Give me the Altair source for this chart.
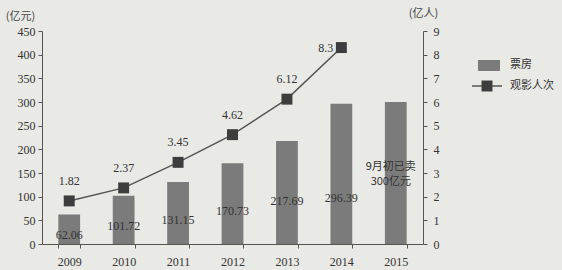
import altair as alt
import pandas as pd

years = ["2009", "2010", "2011", "2012", "2013", "2014", "2015"]
box_office = [62.06, 101.72, 131.15, 170.73, 217.69, 296.39, 300]
box_labels = ["62.06", "101.72", "131.15", "170.73", "217.69", "296.39", ""]
att_years = ["2009", "2010", "2011", "2012", "2013", "2014"]
attendance = [1.82, 2.37, 3.45, 4.62, 6.12, 8.3]
att_labels = ["1.82", "2.37", "3.45", "4.62", "6.12", "8.3"]
note_lines = ["9月初已卖", "300亿元"]

FONT = "Liberation Serif, Noto Sans CJK SC"
CJK = "Noto Sans CJK SC"
BAR_C = "#7b7b7b"
DARK = "#3d3d3d"
AX = "#555555"

bars_df = pd.DataFrame({"year": years, "value": box_office, "label": box_labels})
bars_df["label_y"] = [min(v * 0.45 - 8, 97) if v < 300 else v * 0.45 for v in box_office]
line_df = pd.DataFrame({"year": att_years, "value": attendance, "label": att_labels})

xscale = alt.Scale(domain=years, paddingInner=0.6, paddingOuter=0.3)
x_axis = alt.Axis(title=None, labelAngle=0, tickBand="extent", labelPadding=8,
                  labelFont=FONT, labelFontSize=12, labelColor="#333",
                  domainColor=AX, tickColor=AX, tickSize=4)
xenc = alt.X("year:N", scale=xscale, sort=years, axis=x_axis)

yl = alt.Scale(domain=[0, 450], nice=False)
yl_axis = alt.Axis(title="(亿元)", titleAngle=0, titleX=-22, titleY=-10, titleAlign="center",
                   titleFont=CJK, titleFontSize=11, titleFontWeight="normal", titleColor="#444",
                   values=list(range(0, 451, 50)), labelOverlap=False, grid=False,
                   labelFont=FONT, labelFontSize=12, labelPadding=3,
                   labelColor="#333", domainColor=AX, tickColor=AX, tickSize=4, orient="left")

bars = alt.Chart(bars_df).mark_bar(color=BAR_C).encode(
    x=xenc, y=alt.Y("value:Q", scale=yl, axis=yl_axis))
bar_text = alt.Chart(bars_df[bars_df.year != "2015"]).mark_text(font=FONT, fontSize=12, color="#333").encode(
    x=xenc, y=alt.Y("label_y:Q", scale=yl, axis=yl_axis), text="label:N")
note_df = bars_df[bars_df.year == "2015"]
note1 = alt.Chart(note_df).mark_text(font=CJK, fontSize=11, color="#333", dx=-5, dy=-13).encode(
    x=xenc, y=alt.Y("label_y:Q", scale=yl, axis=yl_axis), text=alt.value(note_lines[0]))
note2 = alt.Chart(note_df).mark_text(font=CJK, fontSize=11, color="#333", dx=-5, dy=2).encode(
    x=xenc, y=alt.Y("label_y:Q", scale=yl, axis=yl_axis), text=alt.value(note_lines[1]))
left = alt.layer(bars, bar_text, note1, note2)

yr = alt.Scale(domain=[0, 9], nice=False)
yr_axis = alt.Axis(title="(亿人)", titleAngle=0, titleX=0, titleY=-13, titleAlign="center",
                   titleFont=CJK, titleFontSize=11, titleFontWeight="normal", titleColor="#444",
                   values=list(range(0, 10)), labelOverlap=False, grid=False,
                   labelFont=FONT, labelFontSize=12, labelPadding=6,
                   labelColor="#333", domainColor=AX, tickColor=AX, tickSize=4, orient="right")
yenc = alt.Y("value:Q", scale=yr, axis=yr_axis)

line = alt.Chart(line_df).mark_line(color="#555", strokeWidth=1.5).encode(x=xenc, y=yenc)
pts = alt.Chart(line_df).mark_point(shape="square", filled=True, size=120, color=DARK, opacity=1).encode(
    x=xenc, y=yenc)
ltext = alt.Chart(line_df[line_df.year != "2014"]).mark_text(
    font=FONT, fontSize=12, color="#333", dy=-20).encode(x=xenc, y=yenc, text="label:N")
ltext2 = alt.Chart(line_df[line_df.year == "2014"]).mark_text(
    font=FONT, fontSize=12, color="#333", dx=-8, align="right").encode(x=xenc, y=yenc, text="label:N")

one = pd.DataFrame({"a": [0]})
leg_rect = alt.Chart(one).mark_rect(color=BAR_C).encode(
    x=alt.value(436), x2=alt.value(458), y=alt.value(29), y2=alt.value(40))
leg_line = alt.Chart(one).mark_rule(color="#555", strokeWidth=1.5).encode(
    x=alt.value(430), x2=alt.value(460), y=alt.value(55))
leg_pt = alt.Chart(one).mark_point(shape="square", filled=True, size=120, color=DARK, opacity=1).encode(
    x=alt.value(445), y=alt.value(55))
leg_t1 = alt.Chart(one).mark_text(font=CJK, fontSize=11, color="#333", align="left").encode(
    x=alt.value(468), y=alt.value(34), text=alt.value("票房"))
leg_t2 = alt.Chart(one).mark_text(font=CJK, fontSize=11, color="#333", align="left").encode(
    x=alt.value(468), y=alt.value(55), text=alt.value("观影人次"))

right = alt.layer(line, pts, ltext, ltext2, leg_rect, leg_line, leg_pt, leg_t1, leg_t2)

chart = alt.layer(left, right).resolve_scale(y="independent").properties(
    width=381, height=213,
    autosize=alt.AutoSizeParams(type="none"),
    padding={"left": 42, "top": 31, "right": 139, "bottom": 26},
    background="#e9e9e6",
).configure_view(stroke=None)

chart.save("out.html", embed_options={"renderer": "svg", "actions": False})
